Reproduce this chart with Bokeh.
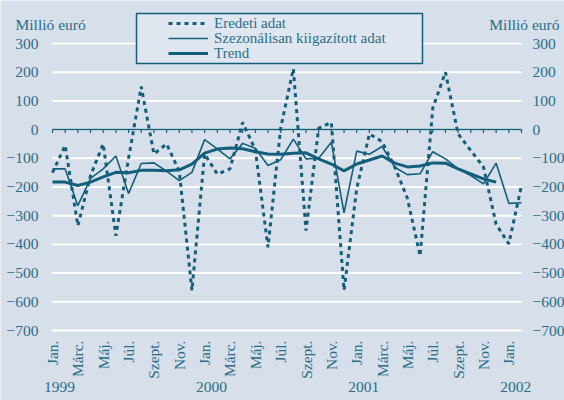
import math
from bokeh.plotting import figure
from bokeh.models import (Range1d, FixedTicker, LinearAxis, Legend, LegendItem,
                          BoxAnnotation, Label)
from bokeh.embed import file_html
from bokeh.resources import INLINE

# ---------------- data ----------------
month_names = ["Jan.", "Febr.", "Márc.", "Ápr.", "Máj.", "Jún.",
               "Júl.", "Aug.", "Szept.", "Okt.", "Nov.", "Dec."]
months = [month_names[i % 12] for i in range(38)]          # Jan 1999 .. Feb 2002
years = ["1999", "2000", "2001", "2002"]
year_start_index = [0, 12, 24, 36]

original = [-150, -55, -335, -160, -50, -370, -100, 150, -85, -50, -145, -560,
            -85, -155, -137, 25, -70, -410, 5, 212, -352, 5, 25, -560,
            -205, -15, -42, -130, -240, -440, 75, 200, -15, -73, -130, -330,
            -398, -195]
seasonal = [-137, -137, -265, -170, -137, -92, -223, -118, -116, -145, -178, -149,
            -35, -67, -102, -48, -65, -125, -105, -33, -102, -100, -44, -290,
            -75, -86, -59, -131, -157, -154, -77, -102, -137, -160, -189, -117,
            -257, -255]
trend = [-183, -183, -195, -183, -165, -149, -150, -142, -142, -143, -140, -120,
         -82, -68, -64, -67, -77, -85, -86, -82, -81, -102, -120, -144,
         -120, -106, -92, -117, -130, -127, -116, -117, -137, -154, -172, -183]
y_ticks = [-700, -600, -500, -400, -300, -200, -100, 0, 100, 200, 300]
series_names = ["Eredeti adat", "Szezonálisan kiigazított adat", "Trend"]
unit_label = "Millió euró"

# ---------------- style / layout ----------------
BG = "#d7dfea"
LEG_BG = "#dfe6ef"
LINE = "#135f7b"
TXT = "#2a6e88"
FONT = "Liberation Serif, Tinos, Times New Roman, Times, Noto Serif, DejaVu Serif, serif"
FS = "15.5px"
LEG_FS = "15px"

W, H = 564, 400
# plot area (in page pixels) that the data scales map onto
PX_LEFT, PX_RIGHT = 52, 521      # first / last month
PY_TOP, PY_BOTTOM = 43, 330      # top / bottom tick value
idx = list(range(len(months)))
x_first, x_last = idx[0], idx[-1]
y_lo, y_hi = min(y_ticks), max(y_ticks)
kx = (PX_RIGHT - PX_LEFT) / (x_last - x_first)
ky = (PY_BOTTOM - PY_TOP) / (y_hi - y_lo)
X0 = x_first - PX_LEFT / kx
X1 = x_last + (W - PX_RIGHT) / kx
Y1 = y_hi + PY_TOP / ky
Y0 = y_lo - (H - PY_BOTTOM) / ky


def xd(page_x):
    return X0 + page_x / kx


def yd(page_y):
    return Y1 - page_y / ky


p = figure(width=W, height=H, x_range=Range1d(X0, X1), y_range=Range1d(Y0, Y1),
           output_backend="svg", toolbar_location=None, title=None,
           min_border=0, min_border_left=0, min_border_right=0,
           min_border_top=0, min_border_bottom=0,
           background_fill_color=BG, border_fill_color=BG, outline_line_color=None)
p.xgrid.visible = False
p.ygrid.visible = False


def plain_axis(ax, standoff):
    ax.axis_line_color = None
    ax.major_tick_line_color = None
    ax.minor_tick_line_color = None
    ax.major_tick_out = 0
    ax.major_tick_in = 0
    ax.minor_tick_out = 0
    ax.minor_tick_in = 0
    ax.major_label_standoff = standoff
    ax.major_label_text_font = FONT
    ax.major_label_text_font_size = FS
    ax.major_label_text_color = TXT


# y axes (drawn at the first / last month)
ly = p.yaxis[0]
ly.ticker = FixedTicker(ticks=y_ticks)
ly.fixed_location = x_first
plain_axis(ly, 14)
ry = LinearAxis(ticker=FixedTicker(ticks=y_ticks), fixed_location=x_last)
plain_axis(ry, 11)
p.add_layout(ry, "right")

# x axis with month labels, below the lowest tick value
xa = p.xaxis[0]
xa.ticker = FixedTicker(ticks=idx[::2])
xa.major_label_overrides = {i: months[i] for i in idx[::2]}
xa.major_label_orientation = math.pi / 2
xa.fixed_location = y_lo
plain_axis(xa, 10)

# year axis further below
year_ticks = [i + 0.55 for i in year_start_index]
ya = LinearAxis(ticker=FixedTicker(ticks=year_ticks),
                major_label_overrides={t: y for t, y in zip(year_ticks, years)},
                fixed_location=yd(376))
plain_axis(ya, 5)
p.add_layout(ya, "below")

# horizontal grid lines between first and last month
n = len(y_ticks)
p.segment(x0=[x_first] * n, x1=[x_last] * n, y0=y_ticks, y1=y_ticks,
          line_color="white", line_width=2)

# zero line with monthly tick marks
p.segment(x0=[x_first], x1=[x_last], y0=[0], y1=[0], line_color=LINE, line_width=1.5)
tick_len = 3.5 / ky
p.segment(x0=idx, y0=[0] * len(idx), x1=idx, y1=[-tick_len] * len(idx),
          line_color=LINE, line_width=1.2)

# series
r1 = p.line(x=idx, y=original, line_color=LINE, line_width=3, line_dash="4 4")
r2 = p.line(x=idx, y=seasonal, line_color=LINE, line_width=1.6)
r3 = p.line(x=idx[:len(trend)], y=trend, line_color=LINE, line_width=3)

# legend box
p.add_layout(BoxAnnotation(left=xd(136), right=xd(422), top=yd(13), bottom=yd(63),
                           fill_color=LEG_BG, fill_alpha=1, line_color=LINE,
                           line_width=1.5, line_alpha=1, level="annotation"))

# one legend row per series, each placed on its own line inside the box
ROW_H = 30
row_centers = [22.5, 38, 53.5]
for name, rend, cy in zip(series_names, [r1, r2, r3], row_centers):
    p.add_layout(Legend(items=[LegendItem(label=name, renderers=[rend])],
                        location=(168, int(round(H - cy - ROW_H / 2))),
                        padding=0, margin=0, spacing=0,
                        glyph_width=40, glyph_height=ROW_H, label_height=ROW_H,
                        label_standoff=6, border_line_color=None,
                        background_fill_alpha=0, label_text_font=FONT,
                        label_text_font_size=LEG_FS, label_text_color=TXT))

# unit labels
p.add_layout(Label(x=xd(15), y=yd(24), text=unit_label, text_font=FONT,
                   text_font_size=FS, text_color=TXT, text_baseline="alphabetic"))
p.add_layout(Label(x=xd(559), y=yd(24), text=unit_label, text_font=FONT,
                   text_font_size=FS, text_color=TXT, text_align="right",
                   text_baseline="alphabetic"))

open("out.html", "w").write(file_html(p, INLINE))
